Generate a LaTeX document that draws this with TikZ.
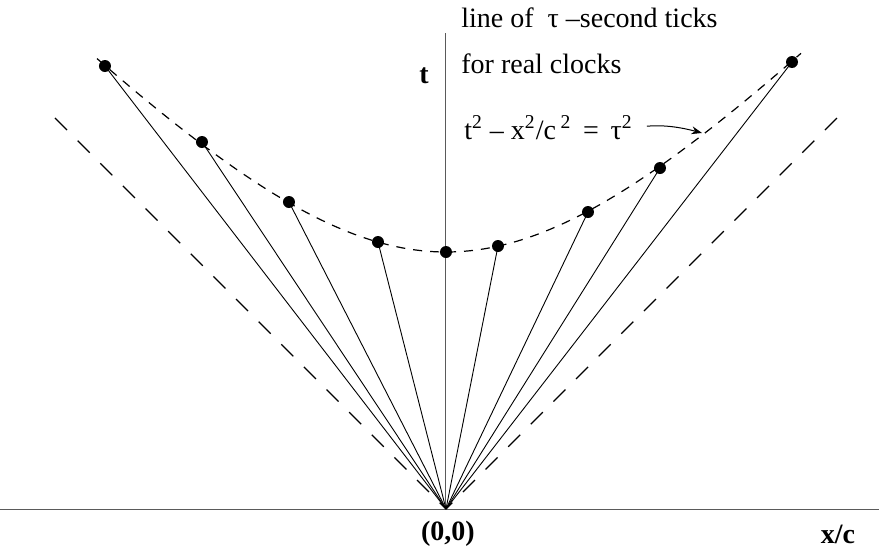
\documentclass[tikz,border=0pt]{standalone}
\usepackage{fontspec}
\setmainfont{Liberation Serif}
\usetikzlibrary{arrows.meta,positioning}
\definecolor{axisgray}{RGB}{90,90,90}

\begin{document}
\begin{tikzpicture}[x=5pt,y=5pt,>=Stealth,
  every node/.style={font=\fontsize{14}{17}\selectfont,inner sep=0pt},
  clockdot/.style={circle,fill=black,minimum size=6pt},
  cone/.style={dash pattern=on 8.5pt off 7.5pt,line width=0.6pt},
  hyper/.style={dash pattern=on 4.5pt off 4pt,line width=0.6pt},
  worldline/.style={line width=0.45pt},
  axislabel/.style={font=\fontsize{14}{17}\selectfont\bfseries}]
  \useasboundingbox (-44.6,-3.9) rectangle (43.3,50.9);
  % axes
  \coordinate (origin) at (0,0);
  \coordinate (xleft) at (-44.6,0);
  \coordinate (xright) at (43.3,0);
  \coordinate (ttop) at (0,47.6);
  \draw[axisgray,line width=0.5pt] (xleft) -- (xright);
  \draw[axisgray,line width=0.5pt] (origin) -- (ttop);
  \node[axislabel] (tlabel) at (-2.2,43.3) {t};
  \node[axislabel] (zero) at (0.2,-2.5) {(0,0)};
  \node[axislabel] (xlabel) at (39.2,-2.5) {x/c};
  % light cone
  \coordinate (coneL) at (-39.1,39.1);
  \coordinate (coneR) at (39.1,39.1);
  \draw[cone] (coneL) -- (origin);
  \draw[cone] (coneR) -- (origin);
  % hyperbola of tau-second ticks
  \draw[hyper] plot[domain=-34.9:35.5,samples=90,smooth] (\x,{sqrt(25.7*25.7+(1.06*\x)*(1.06*\x))});
  % clocks
  \foreach \name/\pos in {L4/{-34.1,44.3},L3/{-24.4,36.7},L2/{-15.7,30.7},L1/{-6.8,26.7},R1/{5.2,26.3},R2/{14.2,29.7},R3/{21.4,34.1},R4/{34.6,44.7}}{
    \node[clockdot] (\name) at (\pos) {};
    \draw[worldline] (origin) -- (\name.center);
  }
  \node[clockdot] (C) at (0,25.7) {};
  % labels
  \node[anchor=base west] (tickline) at (1.5,48.2) {line of\ \ τ –second ticks};
  \node[anchor=base west] (realclocks) at (1.5,43.6) {for real clocks};
  \node[anchor=base west] (hyplabel) at (1.8,37.0) {t\textsuperscript{2} – x\textsuperscript{2}/c\,\textsuperscript{2}\, =\, τ\textsuperscript{2}};
  \coordinate (hyppoint) at (25.6,37.6);
  \draw[->,line width=0.5pt,shorten <=7pt] (hyplabel.east) to[out=5,in=165] (hyppoint);
\end{tikzpicture}
\end{document}
